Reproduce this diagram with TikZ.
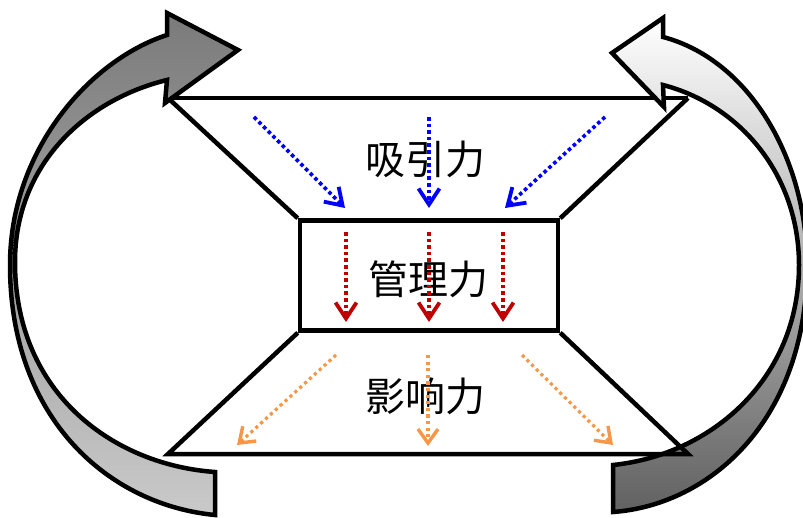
\documentclass[tikz,border=0pt]{standalone}
\usepackage{fontspec}
\setmainfont{Noto Sans CJK SC}
\usetikzlibrary{arrows.meta}
\definecolor{bluearr}{HTML}{0000FF}
\definecolor{redarr}{HTML}{C00000}
\definecolor{orangearr}{HTML}{F79646}
\tikzset{
  frame/.style={line width=4.5pt, line join=miter},
  bigarrow/.style={line width=4.5pt, line join=miter},
  flow/.style={line width=3.6pt, dash pattern=on 3.6pt off 3pt,
    -{Straight Barb[length=16pt,width=21pt,line width=3.8pt]}},
  flowthin/.style={line width=3.2pt, dash pattern=on 3.2pt off 3.4pt,
    -{Straight Barb[length=14pt,width=20pt,line width=3.4pt]}},
  lab/.style={font=\fontsize{40}{42}\selectfont, inner sep=0pt}
}
\begin{document}
\begin{tikzpicture}[x=1pt,y=-1pt]
\useasboundingbox (0,0) rectangle (803,518);
% top trapezoid lines
\coordinate (tl) at (168,98);
\coordinate (tr) at (688,98);
\coordinate (bl) at (168,454);
\coordinate (br) at (688,454);
\node[draw, frame, minimum width=258pt, minimum height=110pt, inner sep=0pt] (mid) at (429,275.5) {};
\draw[frame] (tl) -- (tr);
\draw[frame] (tl) -- (mid.north west);
\draw[frame] (tr) -- (mid.north east);
% left curved arrow
\draw[bigarrow, top color=black!52, bottom color=black!21]
  (215,515) -- (215,472)
  .. controls (115,465) and (15,395) .. (15,262)
  .. controls (15,165) and (85,100) .. (167,80)
  -- (165,103) -- (238,50) -- (167,13) -- (167,35)
  .. controls (90,60) and (10,150) .. (10,265)
  .. controls (10,420) and (110,505) .. (215,515) -- cycle;
% right curved arrow
\draw[bigarrow, top color=white, middle color=black!9, bottom color=black!62]
  (613,512) -- (613,465)
  .. controls (710,455) and (799,380) .. (799,265)
  .. controls (799,175) and (740,105) .. (663,85)
  -- (664,107) -- (612,53) -- (663,18) -- (663,37)
  .. controls (750,60) and (807,160) .. (807,265)
  .. controls (807,420) and (710,505) .. (613,512) -- cycle;
% bottom trapezoid lines
\draw[frame] (mid.south west) -- (bl) -- (br) -- (mid.south east);
% labels
\node[lab] (xi) at (425,159) {吸引力};
\node[lab] (gl) at (428,279) {管理力};
\node[lab] (yx) at (425,396) {影响力};
% blue arrows
\coordinate (b1s) at (254,117); \coordinate (b1e) at (345,208);
\coordinate (b2s) at (429,117); \coordinate (b2e) at (429,208);
\coordinate (b3s) at (605,117); \coordinate (b3e) at (505,208);
\draw[flow, bluearr] (b1s) -- (b1e);
\draw[flow, bluearr] (b2s) -- (b2e);
\draw[flow, bluearr] (b3s) -- (b3e);
% red arrows
\coordinate (r1s) at (346,232); \coordinate (r1e) at (346,322);
\coordinate (r2s) at (429,232); \coordinate (r2e) at (429,322);
\coordinate (r3s) at (503,232); \coordinate (r3e) at (503,322);
\draw[flow, redarr] (r1s) -- (r1e);
\draw[flow, redarr] (r2s) -- (r2e);
\draw[flow, redarr] (r3s) -- (r3e);
% orange arrows
\coordinate (o1s) at (336,355); \coordinate (o1e) at (237,445);
\coordinate (o2s) at (428,355); \coordinate (o2e) at (428,446);
\coordinate (o3s) at (522,355); \coordinate (o3e) at (613,445);
\draw[flowthin, orangearr] (o1s) -- (o1e);
\draw[flowthin, orangearr] (o2s) -- (o2e);
\draw[flowthin, orangearr] (o3s) -- (o3e);
\end{tikzpicture}
\end{document}
